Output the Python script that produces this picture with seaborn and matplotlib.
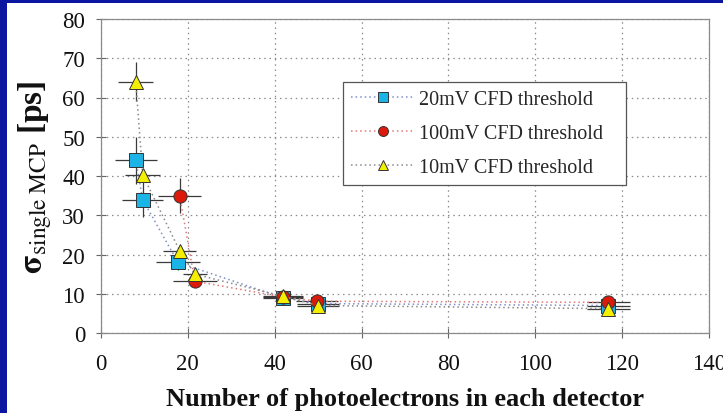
import matplotlib
matplotlib.use("Agg")
import matplotlib.pyplot as plt
import seaborn as sns
import pandas as pd
from matplotlib.patches import Rectangle

# ---- data ----
x_20mV = [8.0, 9.6, 17.7, 41.8, 50.0, 116.8]
y_20mV = [44.0, 34.0, 18.0, 9.0, 7.5, 7.0]
xerr_20mV = [4.8, 4.7, 5.0, 4.6, 4.8, 5.0]
yerr_20mV = [6.0, 4.5, 2.0, 0.7, 0.5, 0.5]

x_100mV = [18.1, 21.6, 41.8, 49.8, 116.8]
y_100mV = [35.0, 13.2, 9.2, 8.1, 7.8]
xerr_100mV = [5.0, 5.0, 4.6, 4.8, 5.0]
yerr_100mV = [4.5, 1.0, 0.7, 0.5, 0.5]

x_10mV = [8.0, 9.6, 18.1, 21.6, 41.8, 50.0, 116.8]
y_10mV = [64.0, 40.3, 21.0, 15.0, 9.4, 7.0, 6.2]
xerr_10mV = [4.0, 4.0, 3.8, 2.7, 4.6, 4.8, 5.0]
yerr_10mV = [5.0, 1.0, 1.5, 1.0, 0.7, 0.5, 0.5]

labels = ["20mV CFD threshold", "100mV CFD threshold", "10mV CFD threshold"]
xticks = [0, 20, 40, 60, 80, 100, 120, 140]
yticks = [0, 10, 20, 30, 40, 50, 60, 70, 80]

series = [
    (x_20mV, y_20mV, xerr_20mV, yerr_20mV, labels[0], "s", "#1ab4e6", "#7f8fc8", 9.5),
    (x_100mV, y_100mV, xerr_100mV, yerr_100mV, labels[1], "o", "#dd1a0a", "#e07a7a", 9.5),
    (x_10mV, y_10mV, xerr_10mV, yerr_10mV, labels[2], "^", "#f4ee00", "#8a8a8a", 10.5),
]

sns.set_theme(style="white")
plt.rcParams["font.family"] = ["Liberation Serif", "DejaVu Serif"]
plt.rcParams["mathtext.fontset"] = "stix"

fig = plt.figure(figsize=(7.23, 4.14), dpi=100)
fig.patch.set_facecolor("#0a16a0")
fig.patches.append(Rectangle((7 / 723, 0), 1, (414 - 4) / 414, transform=fig.transFigure,
                             facecolor="white", edgecolor="none", zorder=-10))
ax = fig.add_axes([101 / 723, (414 - 334) / 414, (709 - 101) / 723, (334 - 20) / 414])
ax.set_facecolor("white")

for i, (xs, ys, xe, ye, lab, mk, mc, lc, ms) in enumerate(series):
    ax.errorbar(xs, ys, xerr=xe, yerr=ye, fmt="none", ecolor="#3a3a3a",
                elinewidth=0.9, capsize=0, zorder=2 + i * 0.1)
for i, (xs, ys, xe, ye, lab, mk, mc, lc, ms) in enumerate(series):
    df = pd.DataFrame({"x": xs, "y": ys})
    sns.lineplot(data=df, x="x", y="y", sort=False, ax=ax, label=lab,
                 color=lc, linestyle=(0, (1, 2)), linewidth=1.1,
                 marker=mk, markersize=ms, markerfacecolor=mc,
                 markeredgecolor="#333333", markeredgewidth=0.7, zorder=3 + i)

ax.set_xlim(0, 140)
ax.set_ylim(0, 80)
ax.set_xticks(xticks)
ax.set_yticks(yticks)
ax.tick_params(axis="both", which="major", direction="inout", length=7, width=0.8,
               color="#666666", labelsize=16.5, labelcolor="#111111",
               bottom=True, left=True)
ax.tick_params(axis="x", pad=11)
ax.tick_params(axis="y", pad=8)
ax.grid(True, color="#8c8c8c", linestyle=(0, (1.2, 3)), linewidth=0.9)
for s in ax.spines.values():
    s.set_color("#8a8a8a")
    s.set_linewidth(0.9)

ax.set_xlabel("Number of photoelectrons in each detector", fontsize=19,
              fontweight="bold", color="#111111", labelpad=9)
ax.set_ylabel(r"$\mathbf{\sigma}_{\mathrm{single\ MCP}}$ [ps]", fontsize=24,
              fontweight="bold", color="#111111", labelpad=6)

leg = ax.legend(loc="upper left", bbox_to_anchor=(0.398, 0.47, 0.465, 0.33),
                mode="expand", frameon=True,
                fancybox=False, framealpha=1, edgecolor="#555555", fontsize=14.5,
                handlelength=3.1, handletextpad=0.25, labelspacing=0.72,
                borderpad=0.42, borderaxespad=0, markerscale=0.75)
leg.get_frame().set_linewidth(0.9)

fig.savefig("out.png", dpi=100, facecolor=fig.get_facecolor())
